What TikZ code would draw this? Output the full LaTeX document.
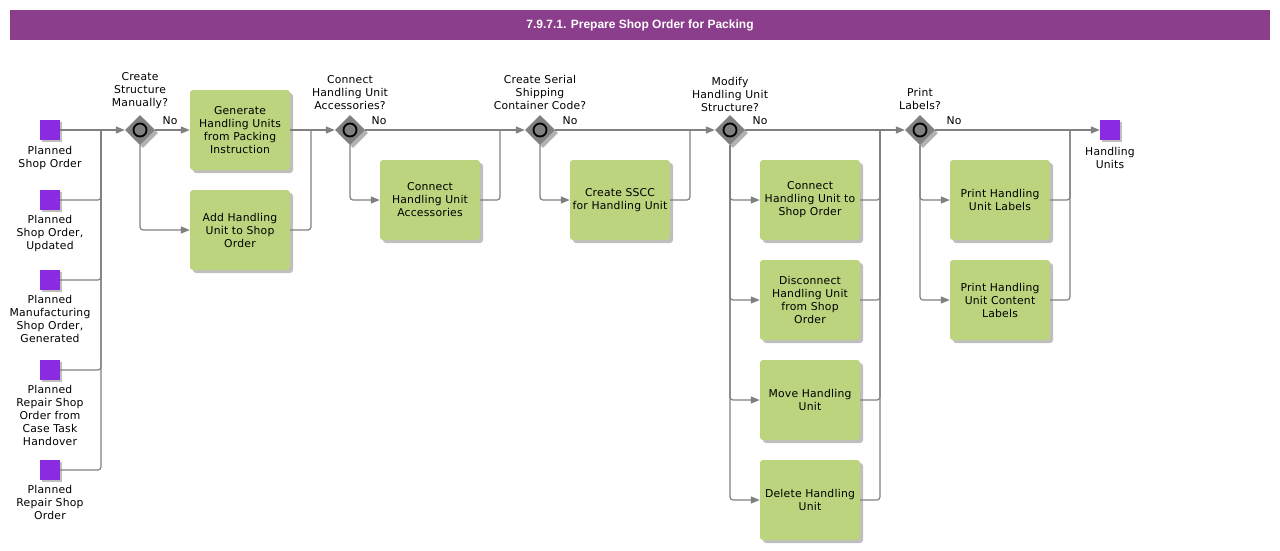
\documentclass[tikz,border=0pt]{standalone}
\usepackage{fontspec}
\setmainfont{DejaVu Sans}[LetterSpace=2]
\newfontfamily\titlefont{Liberation Sans}
\usetikzlibrary{shapes.geometric,shadows,arrows.meta}
\definecolor{titlebg}{HTML}{8A3E8C}
\definecolor{evt}{HTML}{8A2BE2}
\definecolor{taskbg}{HTML}{BDD47E}
\definecolor{flowc}{HTML}{808080}
\tikzset{
  txt/.style={font=\fontsize{10.8}{13}\selectfont, align=center, inner sep=0pt},
  task/.style={txt, rectangle, rounded corners=3pt, fill=taskbg, minimum width=100pt, minimum height=80pt, text width=98pt,
    drop shadow={shadow xshift=3pt, shadow yshift=-3pt, fill=black, opacity=0.25}},
  evnt/.style={rectangle, fill=evt, minimum size=20pt, inner sep=0pt,
    drop shadow={shadow xshift=2pt, shadow yshift=-2pt, fill=black, opacity=0.25}},
  gw/.style={diamond, fill=flowc, minimum width=30pt, minimum height=30pt, inner sep=0pt,
    drop shadow={shadow xshift=3pt, shadow yshift=-3pt, fill=black, opacity=0.3}},
  gwc/.style={circle, draw=black, line width=1.8pt, fill=flowc, minimum size=13pt, inner sep=0pt},
  flow/.style={draw=flowc, line width=1.2pt, rounded corners=3pt},
  arr/.style={flow, -{Triangle[length=9pt,width=7pt]}},
  evlab/.style={txt, anchor=north},
  gwlab/.style={txt, anchor=south},
}
\begin{document}
\begin{tikzpicture}[x=1pt,y=-1pt]
\useasboundingbox (0,0) rectangle (1280,550);
\fill[white] (0,0) rectangle (1280,550);
% title
\node[fill=titlebg, minimum width=1260pt, minimum height=30pt, inner sep=0pt, text=white,
  font=\titlefont\bfseries\fontsize{12}{14}\selectfont] (title) at (640,25) {7.9.7.1. Prepare Shop Order for Packing};

% start events
\node[evnt] (e1) at (50,130) {};
\node[evnt] (e2) at (50,200) {};
\node[evnt] (e3) at (50,280) {};
\node[evnt] (e4) at (50,370) {};
\node[evnt] (e5) at (50,470) {};
\node[evlab] (l1) at (50,146) {Planned\\Shop Order};
\node[evlab] (l2) at (50,215) {Planned\\Shop Order,\\Updated};
\node[evlab] (l3) at (50,295) {Planned\\Manufacturing\\Shop Order,\\Generated};
\node[evlab] (l4) at (50,385) {Planned\\Repair Shop\\Order from\\Case Task\\Handover};
\node[evlab] (l5) at (50,485) {Planned\\Repair Shop\\Order};

% end event
\node[evnt] (end) at (1110,130) {};
\node[evlab] (lend) at (1110,147) {Handling\\Units};

% gateways
\node[gw] (g1) at (140,130) {}; \node[gwc] (g1c) at (g1) {};
\node[gw] (g2) at (350,130) {}; \node[gwc] (g2c) at (g2) {};
\node[gw] (g3) at (540,130) {}; \node[gwc] (g3c) at (g3) {};
\node[gw] (g4) at (730,130) {}; \node[gwc] (g4c) at (g4) {};
\node[gw] (g5) at (920,130) {}; \node[gwc] (g5c) at (g5) {};

\node[gwlab] (gl1) at (140,109) {Create\\Structure\\Manually?};
\node[gwlab] (gl2) at (350,110) {Connect\\Handling Unit\\Accessories?};
\node[gwlab] (gl3) at (540,110) {Create Serial\\Shipping\\Container Code?};
\node[gwlab] (gl4) at (730,112) {Modify\\Handling Unit\\Structure?};
\node[gwlab] (gl5) at (920,110) {Print\\Labels?};

\node[txt] (no1) at (170,121) {No};
\node[txt] (no2) at (379,121) {No};
\node[txt] (no3) at (570,121) {No};
\node[txt] (no4) at (760,121) {No};
\node[txt] (no5) at (954,121) {No};

% tasks
\node[task] (t1) at (240,130) {Generate\\Handling Units\\from Packing\\Instruction};
\node[task] (t2) at (240,230) {Add Handling\\Unit to Shop\\Order};
\node[task] (t3) at (430,200) {Connect\\Handling Unit\\Accessories};
\node[task] (t4) at (620,200) {Create SSCC\\for Handling Unit};
\node[task] (t5) at (810,200) {Connect\\Handling Unit to\\Shop Order};
\node[task] (t6) at (810,300) {Disconnect\\Handling Unit\\from Shop\\Order};
\node[task] (t7) at (810,400) {Move Handling\\Unit};
\node[task] (t8) at (810,500) {Delete Handling\\Unit};
\node[task] (t9) at (1000,200) {Print Handling\\Unit Labels};
\node[task] (t10) at (1000,300) {Print Handling\\Unit Content\\Labels};

% junction coordinates
\coordinate (j1) at (101,130);
\coordinate (j2) at (311,130);
\coordinate (j3) at (500,130);
\coordinate (j4) at (690,130);
\coordinate (j5) at (880,130);
\coordinate (j6) at (1070,130);

% connectors: start events
\draw[arr] (e1.east) -- (g1.west);
\draw[flow] (e2.east) -| (j1);
\draw[flow] (e3.east) -| (j1);
\draw[flow] (e4.east) -| (j1);
\draw[flow] (e5.east) -| (j1);

% gateway 1
\draw[arr] (g1.east) -- (t1.west);
\draw[arr] (g1.south) |- (t2.west);
\draw[arr] (t1.east) -- (g2.west);
\draw[flow] (t2.east) -| (j2);

% gateway 2
\draw[arr] (g2.east) -- (g3.west);
\draw[arr] (g2.south) |- (t3.west);
\draw[flow] (t3.east) -| (j3);

% gateway 3
\draw[arr] (g3.east) -- (g4.west);
\draw[arr] (g3.south) |- (t4.west);
\draw[flow] (t4.east) -| (j4);

% gateway 4
\draw[arr] (g4.east) -- (g5.west);
\draw[arr] (g4.south) |- (t5.west);
\draw[arr] (g4.south) |- (t6.west);
\draw[arr] (g4.south) |- (t7.west);
\draw[arr] (g4.south) |- (t8.west);
\draw[flow] (t5.east) -| (j5);
\draw[flow] (t6.east) -| (j5);
\draw[flow] (t7.east) -| (j5);
\draw[flow] (t8.east) -| (j5);

% gateway 5
\draw[arr] (g5.east) -- (end.west);
\draw[arr] (g5.south) |- (t9.west);
\draw[arr] (g5.south) |- (t10.west);
\draw[flow] (t9.east) -| (j6);
\draw[flow] (t10.east) -| (j6);
\end{tikzpicture}
\end{document}
